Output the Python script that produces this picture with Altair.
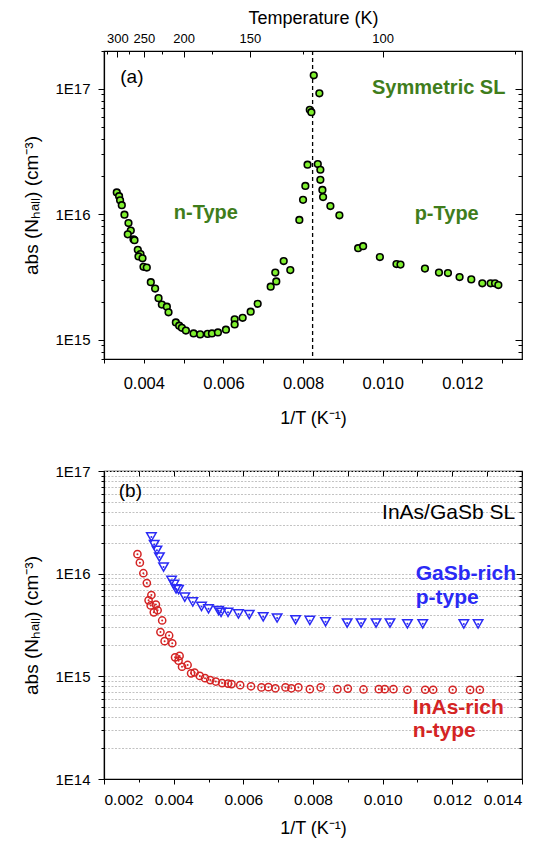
import altair as alt
import pandas as pd

# ---------------- panel (a): symmetric SL ----------------
inv_T_a = [0.003321, 0.003379, 0.003404, 0.003447, 0.003514, 0.003615, 0.003673, 0.003597,
           0.003741, 0.003766, 0.003849, 0.003917, 0.003867, 0.003967, 0.003992, 0.004075,
           0.004176, 0.004284, 0.00437, 0.004453, 0.004579, 0.004621, 0.004805, 0.004888,
           0.004956, 0.005057, 0.00525, 0.005416, 0.005603, 0.005711, 0.005862, 0.006063,
           0.006282, 0.006282, 0.006483, 0.006684, 0.00686, 0.007187, 0.007303, 0.007328,
           0.007514, 0.00768, 0.007907, 0.008, 0.008058, 0.008113, 0.008169, 0.008209,
           0.008269, 0.00841, 0.00837, 0.008435, 0.008435, 0.008486, 0.008503, 0.008687,
           0.008913, 0.009384, 0.009509, 0.00993, 0.010347, 0.010448, 0.011062, 0.011414,
           0.01164, 0.011932, 0.012226, 0.012503, 0.012712, 0.012823, 0.012906]
n_a = [1.49e16, 1.39e16, 1.29e16, 1.18e16, 9.9e15, 8.5e15, 7.4e15, 6.9e15,
       6.3e15, 6.2e15, 5.2e15, 4.8e15, 4.6e15, 4.45e15, 3.8e15, 3.75e15,
       2.87e15, 2.55e15, 2.14e15, 1.9e15, 1.83e15, 1.65e15, 1.37e15, 1.29e15,
       1.24e15, 1.18e15, 1.12e15, 1.10e15, 1.11e15, 1.12e15, 1.14e15, 1.20e15,
       1.45e15, 1.32e15, 1.49e15, 1.67e15, 1.93e15, 2.64e15, 3.42e15, 2.91e15,
       4.23e15, 3.58e15, 9.0e15, 1.30e16, 1.68e16, 2.48e16, 6.8e16, 6.5e16,
       1.28e17, 9.2e16, 2.51e16, 2.26e16, 1.88e16, 1.56e16, 1.37e16, 1.16e16,
       9.8e15, 5.35e15, 5.55e15, 4.55e15, 4.0e15, 3.96e15, 3.68e15, 3.42e15,
       3.39e15, 3.15e15, 3.02e15, 2.81e15, 2.81e15, 2.81e15, 2.72e15]
inv_T_transition = [0.00824]

# ---------------- panel (b): InAs-rich / GaSb-rich ----------------
inv_T_inas = [0.00296, 0.00303, 0.00313, 0.00323, 0.00336, 0.00328, 0.00334, 0.00349, 0.00343,
              0.00354, 0.00367, 0.00362, 0.00374, 0.00387, 0.00396, 0.00404, 0.00417, 0.00414,
              0.00424, 0.0044, 0.0045, 0.0046, 0.00475, 0.0049, 0.00505, 0.00521, 0.00539,
              0.00556, 0.00566, 0.00591, 0.00622, 0.00652, 0.00672, 0.00692, 0.00721, 0.00738,
              0.00758, 0.00791, 0.00822, 0.0087, 0.009, 0.00945, 0.00989, 0.01006, 0.01031,
              0.01071, 0.01122, 0.01145, 0.01201, 0.01251, 0.01279]
n_inas = [1.55e16, 1.28e16, 1.01e16, 8.1e15, 6.2e15, 5.5e15, 4.9e15, 5.0e15, 4.2e15,
          4.4e15, 3.5e15, 2.7e15, 2.2e15, 2.5e15, 2.1e15, 1.53e15, 1.58e15, 1.42e15,
          1.24e15, 1.29e15, 1.07e15, 1.09e15, 1.01e15, 9.6e14, 9.2e14, 8.9e14, 8.6e14,
          8.5e14, 8.4e14, 8.2e14, 8.0e14, 7.8e14, 7.85e14, 7.65e14, 7.8e14, 7.65e14,
          7.8e14, 7.5e14, 7.8e14, 7.5e14, 7.6e14, 7.45e14, 7.5e14, 7.5e14, 7.5e14,
          7.4e14, 7.4e14, 7.4e14, 7.4e14, 7.38e14, 7.4e14]
inv_T_gasb = [0.00336, 0.00344, 0.00352, 0.00359, 0.00371, 0.00394, 0.00401, 0.00407, 0.00414,
              0.00432, 0.00455, 0.0048, 0.005, 0.00529, 0.00536, 0.00556, 0.00586, 0.00617,
              0.00657, 0.00697, 0.0075, 0.00791, 0.00836, 0.00898, 0.00938, 0.00981, 0.01021,
              0.01071, 0.01115, 0.01233, 0.01274]
n_gasb = [2.28e16, 1.92e16, 1.69e16, 1.45e16, 1.16e16, 8.6e15, 7.85e15, 7.1e15, 7.0e15,
          5.9e15, 5.3e15, 4.8e15, 4.55e15, 4.37e15, 4.2e15, 4.2e15, 4.05e15, 4.0e15,
          3.8e15, 3.7e15, 3.55e15, 3.5e15, 3.4e15, 3.3e15, 3.3e15, 3.3e15, 3.3e15,
          3.25e15, 3.25e15, 3.24e15, 3.24e15]

# ---------------- tick lists ----------------
temp_ticks = [325, 300, 275, 250, 225, 200, 175, 150, 125, 100, 75]
x_ticks_a = [0.003, 0.004, 0.005, 0.006, 0.007, 0.008, 0.009, 0.010, 0.011, 0.012, 0.013]
x_ticks_b = [0.002, 0.003, 0.004, 0.005, 0.006, 0.007, 0.008, 0.009, 0.010, 0.011, 0.012, 0.013, 0.014]
mant = [1, 2, 3, 4, 5, 6, 7, 8, 9]
y_ticks_a = [7 * 10**14, 8 * 10**14, 9 * 10**14] + [m * 10**e for e in (15, 16) for m in mant] + [10**17, 2 * 10**17]
y_ticks_b = [m * 10**e for e in (14, 15, 16) for m in mant] + [10**17]

# ---------------- annotations ----------------
ann_a_text = ["Symmetric SL", "n-Type", "p-Type"]
ann_a_x = [0.011408, 0.005558, 0.011608]
ann_a_y = [9.12e16, 9.12e15, 8.96e15]
lab_a = ["(a)"]; lab_a_x = [0.003408]; lab_a_y = [1.12e17]
lab_b = ["(b)"]; lab_b_x = [0.002424]; lab_b_y = [5.58e16]
sl_b = ["InAs/GaSb SL"]; sl_b_x = [0.013804]; sl_b_y = [3.38e16]
blue_text = ["GaSb-rich", "p-type"]; blue_x = [0.01095, 0.01095]; blue_y = [8.67e15, 5.06e15]
red_text = ["InAs-rich", "n-type"]; red_x = [0.010865, 0.010865]; red_y = [4.28e14, 2.56e14]

W, H = 418, 308
FONT = "Liberation Sans"
GREEN = "#7ff02e"
GREEN_TXT = "#3f7d1c"
RED = "#d42424"
BLUE = "#2a2af5"

IS_DEC = "abs(log(datum.value)/LN10 - round(log(datum.value)/LN10)) < 0.001"
DEC_LABEL = IS_DEC + " ? '1E' + round(log(datum.value)/LN10) : ''"
EVEN = "round(datum.value*1000) % 2 == 0"
EVEN_LABEL = EVEN + " ? format(datum.value, '.3f') : ''"
T_MAJOR = "indexof([300,250,200,150,100], round(1/datum.value)) >= 0"
T_LABEL = T_MAJOR + " ? format(round(1/datum.value), 'd') : ''"


def cond(test, a, b):
    return {"condition": {"test": test, "value": a}, "value": b}


sx_a = alt.Scale(domain=[0.003, 0.0135], nice=False, zero=False)
sy_a = alt.Scale(type="log", domain=[7e14, 2e17], nice=False)
sx_b = alt.Scale(domain=[0.002, 0.014], nice=False, zero=False)
sy_b = alt.Scale(type="log", domain=[1e14, 1e17], nice=False)

y_title = "abs (Nₕₐₗₗ)   (cm⁻³)"
x_title = "1/T (K⁻¹)"


def text_layer(df, color, size, weight, align, sx, sy, xaxis=None, yaxis=None):
    return alt.Chart(df).mark_text(font=FONT, fontSize=size, fontWeight=weight, color=color,
                                   align=align, baseline="alphabetic").encode(
        x=alt.X("x:Q", scale=sx, axis=xaxis),
        y=alt.Y("y:Q", scale=sy, axis=yaxis),
        text="t:N")


# ---------- panel (a) ----------
df_a = pd.DataFrame({"x": inv_T_a, "y": n_a})
inv_temp = [1.0 / t for t in temp_ticks]

rule_a = alt.Chart(pd.DataFrame({"x": inv_T_transition})).mark_rule(
    color="black", strokeDash=[4, 3], strokeWidth=1.3).encode(
    x=alt.X("x:Q", scale=sx_a, axis=alt.Axis(
        orient="top", values=inv_temp, labelExpr=T_LABEL, ticks=False, tickSize=0, domain=False,
        labelPadding=6, labelFontSize=13, labelOverlap=False, title="Temperature (K)",
        titleFontSize=18, titlePadding=5, grid=False)))

pts_a = alt.Chart(df_a).mark_point(shape="circle", filled=True, fill=GREEN, stroke="black",
                                   strokeWidth=1.6, size=44, opacity=1).encode(
    x=alt.X("x:Q", scale=sx_a, axis=alt.Axis(
        orient="bottom", values=x_ticks_a, labelExpr=EVEN_LABEL, tickSize=4, labelPadding=12,
        labelFontSize=16.5, labelOverlap=False, title=x_title, titleFontSize=18, titlePadding=18,
        grid=False)),
    y=alt.Y("y:Q", scale=sy_a, axis=alt.Axis(
        orient="left", values=y_ticks_a, labelExpr=DEC_LABEL, tickSize=cond(IS_DEC, 6, 3),
        labelPadding=8, labelFontSize=15, labelOverlap=False, title=y_title, titleFontSize=19,
        titlePadding=13, grid=False)))

ann_a = text_layer(pd.DataFrame({"t": ann_a_text, "x": ann_a_x, "y": ann_a_y}), GREEN_TXT, 20,
                   "bold", "center", sx_a, sy_a,
                   xaxis=alt.Axis(orient="bottom", offset=-H, values=inv_temp, labels=False,
                                  tickSize=cond(T_MAJOR, 6, 3), domain=False, title=None, grid=False),
                   yaxis=alt.Axis(orient="left", offset=-W, values=y_ticks_a, labels=False,
                                  tickSize=cond(IS_DEC, 7, 4), domain=False, title=None, grid=False))
labA = text_layer(pd.DataFrame({"t": lab_a, "x": lab_a_x, "y": lab_a_y}), "black", 19, "normal",
                  "left", sx_a, sy_a)

top = alt.layer(rule_a, pts_a, ann_a, labA).resolve_scale(
    x="independent", y="independent").properties(width=W, height=H)

# ---------- panel (b) ----------
df_inas = pd.DataFrame({"x": inv_T_inas, "y": n_inas})
df_gasb = pd.DataFrame({"x": inv_T_gasb, "y": n_gasb})

circ = alt.Chart(df_inas).mark_point(shape="circle", filled=False, color=RED, strokeWidth=1.5,
                                     size=52, opacity=1).encode(
    x=alt.X("x:Q", scale=sx_b, axis=alt.Axis(
        orient="bottom", values=x_ticks_b, labelExpr=EVEN_LABEL, tickSize=cond(EVEN, 5, 3),
        labelPadding=8, labelFontSize=15.5, labelOverlap=False, title=x_title, titleFontSize=18,
        titlePadding=12, grid=False)),
    y=alt.Y("y:Q", scale=sy_b, axis=alt.Axis(
        orient="left", values=y_ticks_b, labelExpr=DEC_LABEL, tickSize=cond(IS_DEC, 6, 3),
        labelPadding=8, labelFontSize=15, labelOverlap=False, title=y_title, titleFontSize=19,
        titlePadding=13, grid=True, gridColor="#c2c2c2", gridDash=[2, 1.5], gridWidth=1)))
circ_dot = alt.Chart(df_inas).mark_point(shape="circle", filled=True, color=RED, size=4,
                                         opacity=1).encode(
    x=alt.X("x:Q", scale=sx_b, axis=None), y=alt.Y("y:Q", scale=sy_b, axis=None))
tri = alt.Chart(df_gasb).mark_point(shape="triangle-down", filled=False, color=BLUE,
                                    strokeWidth=1.5, size=90, opacity=1).encode(
    x=alt.X("x:Q", scale=sx_b, axis=None), y=alt.Y("y:Q", scale=sy_b, axis=None))
tri_dot = alt.Chart(df_gasb).mark_point(shape="circle", filled=True, color=BLUE, size=4,
                                        opacity=1).encode(
    x=alt.X("x:Q", scale=sx_b, axis=None), y=alt.Y("y:Q", scale=sy_b, axis=None))

labB = text_layer(pd.DataFrame({"t": lab_b, "x": lab_b_x, "y": lab_b_y}), "black", 19, "normal",
                  "left", sx_b, sy_b)
slB = text_layer(pd.DataFrame({"t": sl_b, "x": sl_b_x, "y": sl_b_y}), "black", 21, "normal",
                 "right", sx_b, sy_b,
                 xaxis=alt.Axis(orient="bottom", offset=-H, values=x_ticks_b, labels=False,
                                tickSize=5, domain=False, title=None, grid=False),
                 yaxis=alt.Axis(orient="left", offset=-W, values=y_ticks_b, labels=False,
                                tickSize=cond(IS_DEC, 6, 3), domain=False, title=None, grid=False))
blueT = text_layer(pd.DataFrame({"t": blue_text, "x": blue_x, "y": blue_y}), BLUE, 21, "bold",
                   "left", sx_b, sy_b)
redT = text_layer(pd.DataFrame({"t": red_text, "x": red_x, "y": red_y}), RED, 21, "bold",
                  "left", sx_b, sy_b)

bottom = alt.layer(circ, circ_dot, tri, tri_dot, labB, slB, blueT, redT).resolve_scale(
    x="independent", y="independent").properties(width=W, height=H)

chart = alt.vconcat(top, bottom, spacing=34).properties(
    padding={"left": 14, "top": 0, "right": 4, "bottom": 0}
).configure(font=FONT).configure_view(stroke="black", strokeWidth=1.2).configure_axis(
    domainColor="black", domainWidth=1.2, tickColor="black", tickWidth=1, labelColor="black",
    titleColor="black", labelFont=FONT, titleFont=FONT, titleFontWeight="normal")

chart.save("out.html", embed_options={"renderer": "svg", "actions": False})
